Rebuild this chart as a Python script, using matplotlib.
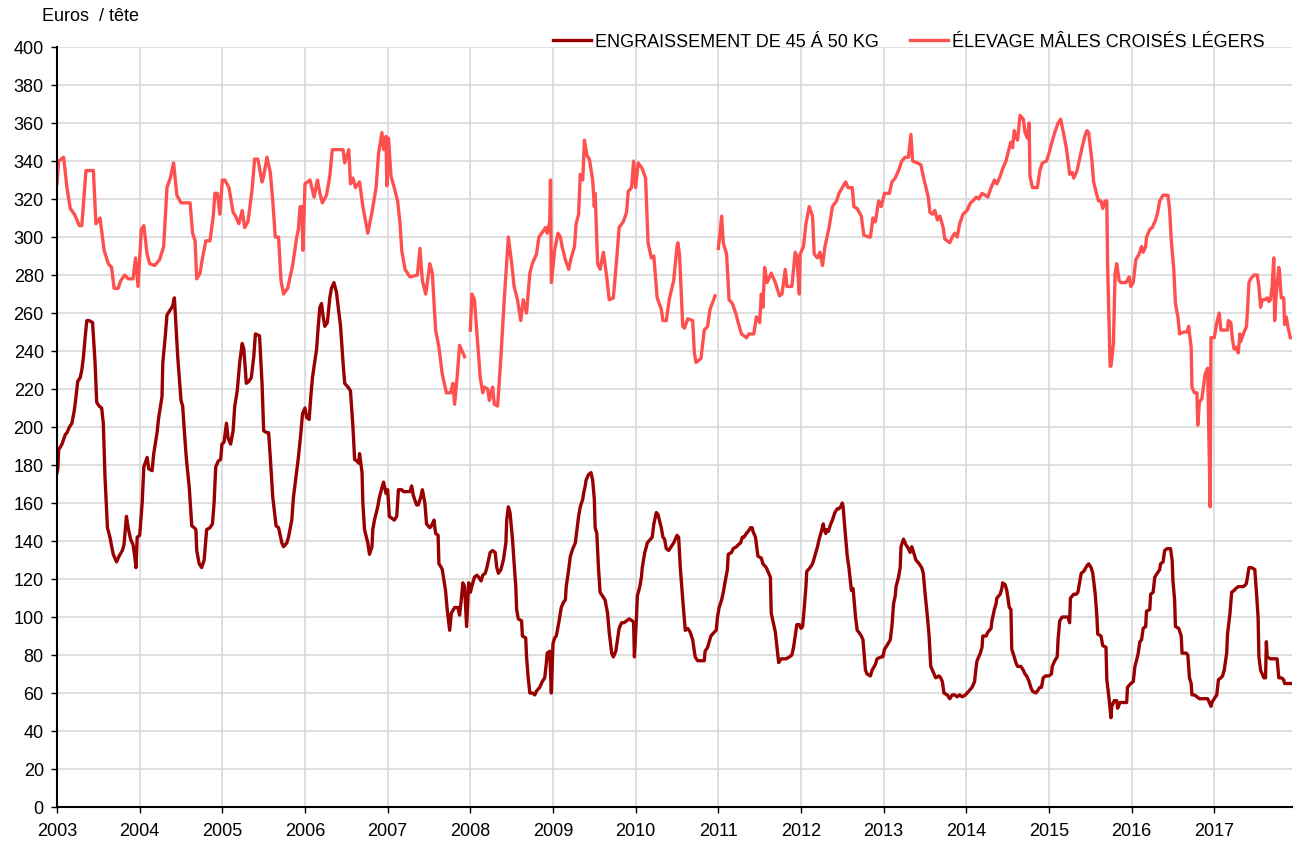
import numpy as np
import matplotlib
matplotlib.use("Agg")
import matplotlib.pyplot as plt

plt.rcParams['font.family'] = ['Liberation Sans', 'DejaVu Sans']

# ELEVAGE MALES CROISES LEGERS (light red), NaN = break in the series
light_years = [
    2003.0, 2003.02, 2003.05, 2003.08, 2003.12, 2003.16, 2003.21, 2003.27, 2003.30, 2003.35,
    2003.44, 2003.47, 2003.52, 2003.57, 2003.62, 2003.66, 2003.69, 2003.74, 2003.77, 2003.82,
    2003.86, 2003.92, 2003.95, 2003.98, 2004.02, 2004.05, 2004.09, 2004.12, 2004.18, 2004.24,
    2004.29, 2004.33, 2004.37, 2004.41, 2004.45, 2004.50, 2004.61, 2004.64, 2004.67, 2004.69,
    2004.73, 2004.76, 2004.80, 2004.85, 2004.89, 2004.91, 2004.94, 2004.97, 2005.0, 2005.03,
    2005.08, 2005.13, 2005.16, 2005.20, 2005.24, 2005.27, 2005.31, 2005.36, 2005.39, 2005.43,
    2005.48, 2005.50, 2005.54, 2005.58, 2005.61, 2005.64, 2005.68, 2005.71, 2005.74, 2005.79,
    2005.85, 2005.90, 2005.92, 2005.94, 2005.96, 2005.975, 2006.0, 2006.06, 2006.11, 2006.15,
    2006.18, 2006.21, 2006.26, 2006.30, 2006.33, 2006.46, 2006.48, 2006.53, 2006.55, 2006.58,
    2006.61, 2006.66, 2006.70, 2006.76, 2006.81, 2006.86, 2006.89, 2006.93, 2006.95, 2006.98,
    2006.99, 2007.01, 2007.04, 2007.08, 2007.12, 2007.15, 2007.17, 2007.21, 2007.24, 2007.27,
    2007.36, 2007.39, 2007.42, 2007.46, 2007.48, 2007.51, 2007.54, 2007.58, 2007.62, 2007.66,
    2007.71, 2007.76, 2007.79, 2007.81, 2007.84, 2007.87, 2007.91, 2007.93, 2007.96, 2008.0,
    2008.02, 2008.05, 2008.08, 2008.12, 2008.15, 2008.17, 2008.21, 2008.23, 2008.27, 2008.29,
    2008.33, 2008.37, 2008.41, 2008.46, 2008.50, 2008.53, 2008.57, 2008.61, 2008.64, 2008.68,
    2008.72, 2008.75, 2008.80, 2008.83, 2008.88, 2008.91, 2008.93, 2008.96, 2008.97, 2008.98,
    2009.02, 2009.06, 2009.09, 2009.11, 2009.15, 2009.19, 2009.22, 2009.26, 2009.28, 2009.31,
    2009.33, 2009.36, 2009.38, 2009.41, 2009.44, 2009.48, 2009.50, 2009.51, 2009.54, 2009.57,
    2009.61, 2009.65, 2009.68, 2009.73, 2009.77, 2009.80, 2009.85, 2009.89, 2009.91, 2009.95,
    2009.975, 2010.0, 2010.03, 2010.08, 2010.12, 2010.15, 2010.19, 2010.22, 2010.26, 2010.31,
    2010.33, 2010.37, 2010.41, 2010.46, 2010.50, 2010.51, 2010.53, 2010.57, 2010.59, 2010.63,
    2010.69, 2010.71, 2010.73, 2010.79, 2010.83, 2010.87, 2010.90, 2010.96, 2010.98, 2011.0,
    2011.02, 2011.04, 2011.06, 2011.10, 2011.13, 2011.17, 2011.21, 2011.24, 2011.28, 2011.34,
    2011.37, 2011.43, 2011.46, 2011.50, 2011.52, 2011.54, 2011.56, 2011.59, 2011.64, 2011.69,
    2011.74, 2011.77, 2011.81, 2011.83, 2011.89, 2011.93, 2011.95, 2011.98, 2011.99, 2012.03,
    2012.06, 2012.10, 2012.14, 2012.16, 2012.20, 2012.23, 2012.26, 2012.29, 2012.34, 2012.38,
    2012.43, 2012.46, 2012.50, 2012.54, 2012.57, 2012.62, 2012.64, 2012.68, 2012.73, 2012.76,
    2012.82, 2012.84, 2012.87, 2012.90, 2012.94, 2012.97, 2013.01, 2013.07, 2013.10, 2013.14,
    2013.18, 2013.22, 2013.26, 2013.30, 2013.33, 2013.35, 2013.41, 2013.45, 2013.49, 2013.54,
    2013.56, 2013.59, 2013.62, 2013.65, 2013.68, 2013.72, 2013.74, 2013.80, 2013.83, 2013.86,
    2013.89, 2013.92, 2013.96, 2014.01, 2014.05, 2014.08, 2014.12, 2014.15, 2014.19, 2014.23,
    2014.26, 2014.30, 2014.34, 2014.37, 2014.41, 2014.44, 2014.48, 2014.52, 2014.54, 2014.56,
    2014.58, 2014.60, 2014.62, 2014.65, 2014.69, 2014.71, 2014.74, 2014.76, 2014.77, 2014.80,
    2014.86, 2014.89, 2014.92, 2014.97, 2015.0, 2015.03, 2015.07, 2015.11, 2015.14, 2015.17,
    2015.21, 2015.24, 2015.25, 2015.28, 2015.30, 2015.34, 2015.38, 2015.40, 2015.44, 2015.46,
    2015.48, 2015.52, 2015.54, 2015.58, 2015.60, 2015.63, 2015.65, 2015.68, 2015.70, 2015.71,
    2015.72, 2015.74, 2015.75, 2015.78, 2015.80, 2015.82, 2015.85, 2015.87, 2015.93, 2015.97,
    2015.99, 2016.02, 2016.05, 2016.09, 2016.12, 2016.14, 2016.17, 2016.18, 2016.22, 2016.25,
    2016.29, 2016.31, 2016.34, 2016.38, 2016.44, 2016.46, 2016.48, 2016.51, 2016.53, 2016.56,
    2016.58, 2016.63, 2016.67, 2016.69, 2016.72, 2016.73, 2016.76, 2016.79, 2016.80, 2016.82,
    2016.85, 2016.89, 2016.92, 2016.95, 2016.96, 2017.0, 2017.03, 2017.06, 2017.08, 2017.13,
    2017.16, 2017.17, 2017.20, 2017.22, 2017.24, 2017.26, 2017.29, 2017.31, 2017.32, 2017.36,
    2017.39, 2017.42, 2017.44, 2017.48, 2017.52, 2017.54, 2017.56, 2017.58, 2017.61, 2017.64,
    2017.66, 2017.68, 2017.70, 2017.72, 2017.73, 2017.75, 2017.78, 2017.79, 2017.81, 2017.84,
    2017.85, 2017.87, 2017.89, 2017.92]
light_values = [
    328, 340, 341, 342, 326, 315, 312, 306, 306, 335,
    335, 307, 310, 293, 286, 284, 273, 273, 277, 280,
    278, 278, 289, 274, 304, 306, 291, 286, 285, 288,
    295, 326, 331, 339, 322, 318, 318, 302, 298, 278,
    281, 289, 298, 298, 311, 323, 323, 312, 330, 330,
    326, 313, 311, 307, 314, 305, 308, 325, 341, 341,
    329, 332, 342, 334, 319, 300, 300, 277, 270, 273,
    285, 300, 304, 316, 316, 293, 328, 330, 321, 330,
    323, 318, 322, 332, 346, 346, 339, 346, 328, 331,
    326, 329, 316, 302, 313, 326, 344, 355, 346, 353,
    327, 352, 332, 326, 319, 307, 293, 283, 281, 279,
    280, 294, 277, 270, 276, 286, 281, 251, 242, 228,
    218, 218, 223, 212, 226, 243, 239, 237, np.nan, 251,
    270, 267, 249, 226, 218, 221, 220, 214, 221, 212,
    211, 237, 267, 300, 286, 274, 267, 256, 267, 260,
    281, 286, 291, 300, 303, 305, 302, 308, 330, 276,
    293, 302, 300, 295, 288, 283, 289, 295, 307, 312,
    333, 330, 351, 343, 341, 330, 316, 323, 286, 283,
    292, 279, 267, 268, 288, 305, 308, 313, 324, 326,
    340, 326, 339, 336, 331, 297, 289, 290, 268, 262,
    256, 256, 268, 277, 295, 297, 291, 253, 252, 257,
    256, 239, 234, 236, 251, 253, 262, 269, np.nan, 294,
    302, 311, 297, 291, 267, 265, 260, 255, 249, 247,
    249, 249, 258, 255, 270, 263, 284, 276, 281, 276,
    269, 270, 283, 274, 274, 292, 290, 270, 291, 295,
    307, 316, 311, 291, 289, 292, 285, 295, 305, 316,
    319, 323, 326, 329, 326, 326, 316, 315, 311, 301,
    300, 300, 310, 308, 319, 316, 323, 323, 329, 331,
    335, 340, 342, 342, 354, 340, 339, 338, 330, 321,
    313, 312, 314, 309, 311, 305, 299, 297, 300, 302,
    300, 307, 312, 314, 318, 319, 321, 320, 323, 322,
    321, 326, 330, 328, 332, 336, 340, 347, 350, 347,
    356, 353, 351, 364, 362, 355, 352, 360, 332, 326,
    326, 335, 339, 340, 344, 349, 355, 360, 362, 356,
    347, 337, 333, 334, 331, 335, 343, 347, 354, 356,
    355, 340, 329, 322, 319, 319, 315, 319, 319, 284,
    267, 232, 232, 244, 281, 286, 277, 276, 276, 279,
    274, 276, 288, 291, 295, 292, 295, 300, 304, 305,
    309, 312, 319, 322, 322, 314, 298, 283, 265, 258,
    249, 250, 250, 253, 242, 221, 218, 218, 201, 213,
    215, 228, 231, 158, 247, 247, 255, 260, 251, 251,
    251, 256, 255, 246, 241, 242, 239, 249, 245, 250,
    253, 276, 278, 280, 280, 274, 263, 267, 267, 268,
    266, 267, 274, 289, 256, 270, 284, 281, 268, 268,
    254, 258, 253, 247]

# ENGRAISSEMENT DE 45 A 50 KG (dark red)
dark_years = [
    2003.0, 2003.01, 2003.02, 2003.06, 2003.10, 2003.12, 2003.15, 2003.18, 2003.21, 2003.23,
    2003.25, 2003.28, 2003.30, 2003.32, 2003.34, 2003.36, 2003.39, 2003.43, 2003.46, 2003.48,
    2003.51, 2003.54, 2003.56, 2003.58, 2003.61, 2003.64, 2003.68, 2003.72, 2003.75, 2003.79,
    2003.81, 2003.84, 2003.86, 2003.89, 2003.92, 2003.94, 2003.955, 2003.97, 2004.0, 2004.03,
    2004.05, 2004.09, 2004.11, 2004.15, 2004.17, 2004.21, 2004.23, 2004.27, 2004.28, 2004.31,
    2004.33, 2004.36, 2004.39, 2004.40, 2004.42, 2004.44, 2004.46, 2004.50, 2004.52, 2004.54,
    2004.56, 2004.57, 2004.60, 2004.63, 2004.66, 2004.68, 2004.69, 2004.72, 2004.75, 2004.78,
    2004.81, 2004.85, 2004.88, 2004.90, 2004.92, 2004.95, 2004.98, 2004.995, 2005.02, 2005.05,
    2005.07, 2005.10, 2005.13, 2005.15, 2005.18, 2005.21, 2005.24, 2005.26, 2005.29, 2005.32,
    2005.35, 2005.38, 2005.40, 2005.45, 2005.48, 2005.50, 2005.54, 2005.56, 2005.58, 2005.61,
    2005.65, 2005.68, 2005.72, 2005.74, 2005.78, 2005.80, 2005.84, 2005.86, 2005.90, 2005.92,
    2005.95, 2005.97, 2006.0, 2006.02, 2006.05, 2006.07, 2006.09, 2006.14, 2006.16, 2006.18,
    2006.20, 2006.22, 2006.24, 2006.27, 2006.30, 2006.32, 2006.35, 2006.38, 2006.41, 2006.43,
    2006.46, 2006.48, 2006.52, 2006.55, 2006.58, 2006.60, 2006.63, 2006.65, 2006.66, 2006.69,
    2006.70, 2006.72, 2006.76, 2006.78, 2006.81, 2006.82, 2006.84, 2006.88, 2006.90, 2006.93,
    2006.95, 2006.98, 2007.0, 2007.02, 2007.05, 2007.08, 2007.11, 2007.13, 2007.17, 2007.19,
    2007.24, 2007.27, 2007.29, 2007.31, 2007.35, 2007.37, 2007.40, 2007.42, 2007.45, 2007.47,
    2007.51, 2007.53, 2007.56, 2007.58, 2007.61, 2007.62, 2007.65, 2007.66, 2007.70, 2007.72,
    2007.75, 2007.77, 2007.81, 2007.85, 2007.87, 2007.89, 2007.91, 2007.93, 2007.955, 2007.98,
    2008.0, 2008.03, 2008.05, 2008.08, 2008.10, 2008.13, 2008.15, 2008.18, 2008.20, 2008.22,
    2008.24, 2008.27, 2008.30, 2008.32, 2008.34, 2008.37, 2008.40, 2008.43, 2008.44, 2008.46,
    2008.48, 2008.51, 2008.53, 2008.55, 2008.56, 2008.58, 2008.62, 2008.63, 2008.67, 2008.68,
    2008.70, 2008.72, 2008.75, 2008.78, 2008.80, 2008.84, 2008.87, 2008.90, 2008.92, 2008.93,
    2008.96, 2008.98, 2009.0, 2009.02, 2009.04, 2009.07, 2009.10, 2009.13, 2009.15, 2009.16,
    2009.19, 2009.21, 2009.24, 2009.27, 2009.29, 2009.31, 2009.33, 2009.36, 2009.37, 2009.39,
    2009.40, 2009.43, 2009.46, 2009.48, 2009.50, 2009.51, 2009.53, 2009.55, 2009.57, 2009.60,
    2009.63, 2009.66, 2009.68, 2009.71, 2009.73, 2009.76, 2009.78, 2009.80, 2009.83, 2009.86,
    2009.89, 2009.92, 2009.96, 2009.975, 2009.985, 2010.01, 2010.02, 2010.05, 2010.07, 2010.08,
    2010.11, 2010.13, 2010.14, 2010.18, 2010.20, 2010.22, 2010.25, 2010.27, 2010.31, 2010.33,
    2010.35, 2010.37, 2010.40, 2010.43, 2010.46, 2010.50, 2010.52, 2010.54, 2010.57, 2010.60,
    2010.63, 2010.66, 2010.69, 2010.72, 2010.75, 2010.79, 2010.83, 2010.84, 2010.87, 2010.89,
    2010.91, 2010.95, 2010.975, 2010.99, 2011.01, 2011.04, 2011.06, 2011.08, 2011.11, 2011.12,
    2011.16, 2011.18, 2011.22, 2011.24, 2011.27, 2011.29, 2011.31, 2011.34, 2011.36, 2011.39,
    2011.41, 2011.42, 2011.45, 2011.47, 2011.48, 2011.52, 2011.54, 2011.58, 2011.60, 2011.63,
    2011.64, 2011.66, 2011.69, 2011.71, 2011.73, 2011.76, 2011.79, 2011.82, 2011.86, 2011.89,
    2011.91, 2011.93, 2011.95, 2011.98, 2012.0, 2012.02, 2012.04, 2012.06, 2012.07, 2012.11,
    2012.14, 2012.16, 2012.18, 2012.20, 2012.22, 2012.24, 2012.27, 2012.28, 2012.30, 2012.31,
    2012.33, 2012.36, 2012.38, 2012.41, 2012.44, 2012.46, 2012.48, 2012.50, 2012.51, 2012.53,
    2012.56, 2012.58, 2012.61, 2012.63, 2012.66, 2012.68, 2012.70, 2012.73, 2012.75, 2012.78,
    2012.80, 2012.84, 2012.86, 2012.90, 2012.92, 2012.97, 2012.99, 2013.01, 2013.04, 2013.08,
    2013.10, 2013.12, 2013.14, 2013.15, 2013.18, 2013.20, 2013.21, 2013.24, 2013.26, 2013.27,
    2013.30, 2013.32, 2013.34, 2013.37, 2013.39, 2013.43, 2013.46, 2013.48, 2013.50, 2013.53,
    2013.55, 2013.57, 2013.59, 2013.61, 2013.63, 2013.67, 2013.69, 2013.71, 2013.73, 2013.77,
    2013.80, 2013.83, 2013.86, 2013.89, 2013.92, 2013.95, 2013.99, 2014.03, 2014.07, 2014.10,
    2014.12, 2014.13, 2014.17, 2014.19, 2014.20, 2014.24, 2014.26, 2014.30, 2014.31, 2014.34,
    2014.36, 2014.37, 2014.41, 2014.43, 2014.44, 2014.47, 2014.49, 2014.52, 2014.54, 2014.55,
    2014.58, 2014.60, 2014.62, 2014.66, 2014.69, 2014.71, 2014.73, 2014.76, 2014.78, 2014.80,
    2014.84, 2014.86, 2014.89, 2014.91, 2014.93, 2014.96, 2015.0, 2015.03, 2015.04, 2015.07,
    2015.10, 2015.11, 2015.13, 2015.16, 2015.21, 2015.23, 2015.25, 2015.26, 2015.28, 2015.30,
    2015.33, 2015.35, 2015.37, 2015.39, 2015.42, 2015.46, 2015.48, 2015.51, 2015.53, 2015.56,
    2015.58, 2015.59, 2015.63, 2015.65, 2015.69, 2015.70, 2015.73, 2015.75, 2015.76, 2015.79,
    2015.82, 2015.83, 2015.86, 2015.89, 2015.94, 2015.95, 2015.99, 2016.02, 2016.04, 2016.07,
    2016.08, 2016.10, 2016.12, 2016.14, 2016.17, 2016.18, 2016.22, 2016.23, 2016.26, 2016.28,
    2016.31, 2016.34, 2016.35, 2016.38, 2016.40, 2016.43, 2016.47, 2016.49, 2016.50, 2016.52,
    2016.53, 2016.57, 2016.60, 2016.61, 2016.66, 2016.68, 2016.70, 2016.72, 2016.73, 2016.76,
    2016.79, 2016.82, 2016.85, 2016.89, 2016.92, 2016.94, 2016.96, 2016.97, 2017.0, 2017.03,
    2017.05, 2017.08, 2017.10, 2017.12, 2017.15, 2017.16, 2017.19, 2017.21, 2017.24, 2017.26,
    2017.29, 2017.32, 2017.35, 2017.38, 2017.39, 2017.42, 2017.45, 2017.49, 2017.51, 2017.53,
    2017.54, 2017.56, 2017.60, 2017.62, 2017.63, 2017.64, 2017.68, 2017.70, 2017.73, 2017.76,
    2017.78, 2017.81, 2017.84, 2017.85, 2017.89, 2017.92]
dark_values = [
    176, 178, 188, 191, 196, 197, 200, 202, 209, 216,
    224, 226, 230, 237, 247, 256, 256, 255, 234, 213,
    211, 210, 202, 174, 147, 142, 133, 129, 132, 135,
    138, 153, 147, 141, 138, 132, 126, 142, 143, 160,
    179, 184, 178, 177, 186, 197, 205, 216, 234, 248,
    259, 261, 263, 264, 268, 252, 237, 214, 211, 198,
    186, 181, 168, 148, 147, 146, 135, 128, 126, 130,
    146, 147, 149, 160, 179, 182, 183, 191, 192, 202,
    194, 191, 198, 211, 219, 234, 244, 241, 223, 224,
    226, 237, 249, 248, 223, 198, 197, 197, 184, 163,
    148, 147, 139, 137, 139, 142, 151, 163, 177, 184,
    197, 207, 210, 205, 204, 216, 226, 241, 253, 263,
    265, 258, 253, 255, 268, 273, 276, 271, 260, 253,
    234, 223, 221, 219, 200, 183, 182, 181, 186, 176,
    160, 146, 139, 133, 137, 146, 151, 158, 163, 168,
    171, 165, 167, 153, 152, 151, 153, 167, 167, 166,
    166, 166, 169, 164, 159, 159, 163, 167, 160, 149,
    147, 148, 151, 144, 143, 128, 126, 125, 114, 104,
    93, 102, 105, 105, 101, 109, 118, 116, 95, 118,
    113, 118, 121, 122, 121, 119, 122, 123, 126, 130,
    134, 135, 134, 126, 123, 125, 130, 139, 151, 158,
    155, 141, 128, 116, 104, 99, 98, 90, 89, 79,
    68, 60, 60, 59, 61, 63, 66, 68, 76, 81,
    82, 60, 86, 89, 90, 97, 105, 108, 109, 116,
    125, 132, 136, 139, 146, 153, 158, 162, 165, 169,
    172, 175, 176, 172, 162, 147, 144, 126, 113, 111,
    109, 102, 92, 81, 79, 82, 88, 94, 97, 97,
    98, 99, 98, 97, 79, 100, 111, 116, 121, 126,
    134, 137, 139, 141, 142, 149, 155, 154, 147, 142,
    141, 136, 135, 137, 139, 143, 142, 126, 109, 93,
    94, 92, 88, 79, 77, 77, 77, 82, 84, 87,
    90, 92, 93, 100, 105, 109, 113, 118, 125, 133,
    134, 136, 137, 138, 139, 142, 142, 144, 145, 147,
    147, 145, 142, 135, 132, 131, 128, 126, 124, 121,
    102, 98, 92, 84, 76, 78, 78, 78, 79, 80,
    84, 90, 96, 96, 94, 95, 105, 116, 124, 126,
    128, 131, 134, 137, 141, 144, 149, 146, 144, 146,
    145, 149, 151, 155, 157, 157, 158, 160, 158, 147,
    132, 126, 114, 115, 100, 93, 92, 90, 88, 72,
    70, 69, 72, 75, 78, 79, 79, 83, 85, 88,
    95, 107, 111, 116, 121, 126, 137, 141, 139, 138,
    136, 134, 137, 133, 130, 128, 126, 123, 113, 100,
    90, 74, 72, 70, 68, 69, 68, 66, 60, 59,
    57, 59, 59, 58, 59, 58, 59, 61, 63, 66,
    74, 77, 81, 84, 90, 90, 92, 94, 98, 104,
    107, 110, 112, 115, 118, 117, 114, 105, 104, 83,
    79, 76, 74, 74, 72, 70, 69, 66, 63, 61,
    60, 61, 63, 63, 68, 69, 69, 70, 74, 77,
    79, 88, 98, 100, 100, 100, 97, 110, 111, 112,
    112, 113, 118, 123, 124, 127, 128, 126, 123, 112,
    100, 91, 90, 85, 84, 67, 56, 47, 53, 56,
    56, 52, 55, 55, 55, 63, 65, 66, 74, 79,
    81, 87, 88, 94, 95, 103, 104, 112, 113, 121,
    123, 125, 128, 129, 135, 136, 136, 130, 119, 109,
    95, 94, 90, 81, 81, 80, 68, 65, 59, 59,
    58, 57, 57, 57, 57, 55, 53, 55, 57, 59,
    67, 68, 69, 72, 81, 91, 102, 113, 114, 115,
    116, 116, 116, 117, 118, 126, 126, 125, 113, 100,
    79, 72, 68, 68, 87, 79, 78, 78, 78, 78,
    68, 68, 67, 65, 65, 65]

year_ticks = list(range(2003, 2018))
value_ticks = list(range(0, 401, 20))

fig = plt.figure(figsize=(12.99, 8.43), dpi=100)
ax = fig.add_axes([0.0439, 0.0427, 0.9507, 0.9015])

ax.plot(dark_years, dark_values, color='#990000', linewidth=2.4,
        label="ENGRAISSEMENT DE 45 Á 50 KG", solid_joinstyle='round')
ax.plot(light_years, light_values, color='#FF5050', linewidth=2.4,
        label="ÉLEVAGE MÂLES CROISÉS LÉGERS", solid_joinstyle='round')

ax.set_xlim(2003, 2017.94)
ax.set_ylim(0, 400)
ax.set_xticks(year_ticks)
ax.set_yticks(value_ticks)
ax.tick_params(axis='both', labelsize=13, length=4.5, width=1, color='black')
ax.tick_params(axis='y', pad=5)
ax.tick_params(axis='x', pad=7)
ax.grid(True, color='#d9d9d9', linewidth=1.2)
ax.set_axisbelow(True)
for side in ['top', 'right']:
    ax.spines[side].set_visible(False)
ax.spines['left'].set_linewidth(1.5)
ax.spines['bottom'].set_linewidth(1.5)

fig.text(0.032, 0.981, "Euros  / tête", fontsize=13, ha='left', va='center')

fig.legend(loc='center right', bbox_to_anchor=(0.986, 0.950), ncol=2, frameon=False,
           fontsize=13, handlelength=2.1, columnspacing=1.75, handletextpad=0.2)

plt.savefig('out.png', dpi=100)
